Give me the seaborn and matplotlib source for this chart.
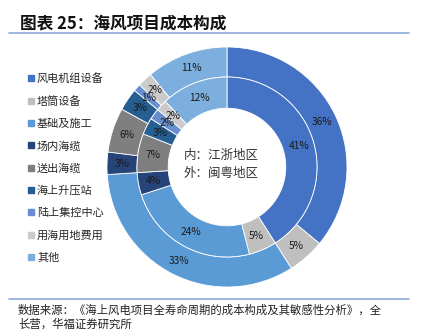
import matplotlib
matplotlib.use("Agg")
import matplotlib.pyplot as plt
import seaborn as sns
from matplotlib.lines import Line2D

categories = ["风电机组设备", "塔筒设备", "基础及施工", "场内海缆", "送出海缆",
              "海上升压站", "陆上集控中心", "用海用地费用", "其他"]
inner_vals = [41, 5, 24, 4, 7, 3, 2, 2, 12]   # 江浙地区
outer_vals = [36, 5, 33, 3, 6, 3, 1, 2, 11]   # 闽粤地区
colors = ["#4472C4", "#BFBFBF", "#5B9BD5", "#264478", "#7F7F7F",
          "#255E91", "#698ED0", "#CBCBCB", "#7CAFDD"]

title = "图表 25：海风项目成本构成"
center_text = "内：江浙地区\n外：闽粤地区"
source = "数据来源：《海上风电项目全寿命周期的成本构成及其敏感性分析》，全\n长营，华福证券研究所"

sns.set_theme(style="white")
plt.rcParams["font.family"] = ["Noto Sans CJK SC", "DejaVu Sans"]

W, H = 424, 331
fig = plt.figure(figsize=(W / 100, H / 100), dpi=100)
cx, cy, R = 227, 167, 120
ax = fig.add_axes([(cx - R) / W, (H - cy - R) / H, 2 * R / W, 2 * R / H])

wp = dict(edgecolor="white", linewidth=0.6)
tp = dict(fontsize=7.3, color="#1a1a1a")
ax.pie(outer_vals, radius=1.0, colors=colors, startangle=90, counterclock=False,
       wedgeprops=dict(width=0.25, **wp), autopct=lambda p: f"{round(p)}%",
       pctdistance=0.875, textprops=tp)
ax.pie(inner_vals, radius=0.75, colors=colors, startangle=90, counterclock=False,
       wedgeprops=dict(width=0.26, **wp), autopct=lambda p: f"{round(p)}%",
       pctdistance=0.83, textprops=tp)
ax.set_xlim(-1, 1)
ax.set_ylim(-1, 1)
ax.set_aspect("equal")
ax.axis("off")
ax.text(-0.05, 0.02, center_text, ha="center", va="center", fontsize=9,
        color="#333333", linespacing=1.45)

# title and rules
fig.text(20 / W, 1 - 23 / H, title, fontsize=12, fontweight="bold", va="center", ha="left",
         color="#111111")
fig.add_artist(Line2D([9 / W, 409 / W], [1 - 33 / H, 1 - 33 / H], color="#8EA9DB", lw=1.2))
fig.add_artist(Line2D([9 / W, 409 / W], [1 - 299 / H, 1 - 299 / H], color="#8EA9DB", lw=1.2))
fig.text(18 / W, 1 - 317 / H, source, fontsize=8.2, va="center", ha="left",
         color="#222222", linespacing=1.3)

# legend
handles = [Line2D([0], [0], marker="s", linestyle="", markersize=5,
                  markerfacecolor=c, markeredgecolor=c) for c in colors]
fig.legend(handles, categories, loc="upper left", bbox_to_anchor=(27 / W, 1 - 73 / H),
           frameon=False, fontsize=8, handletextpad=0.1, labelspacing=1.07,
           handlelength=0.8, borderaxespad=0, borderpad=0)

fig.savefig("out.png", dpi=100)
